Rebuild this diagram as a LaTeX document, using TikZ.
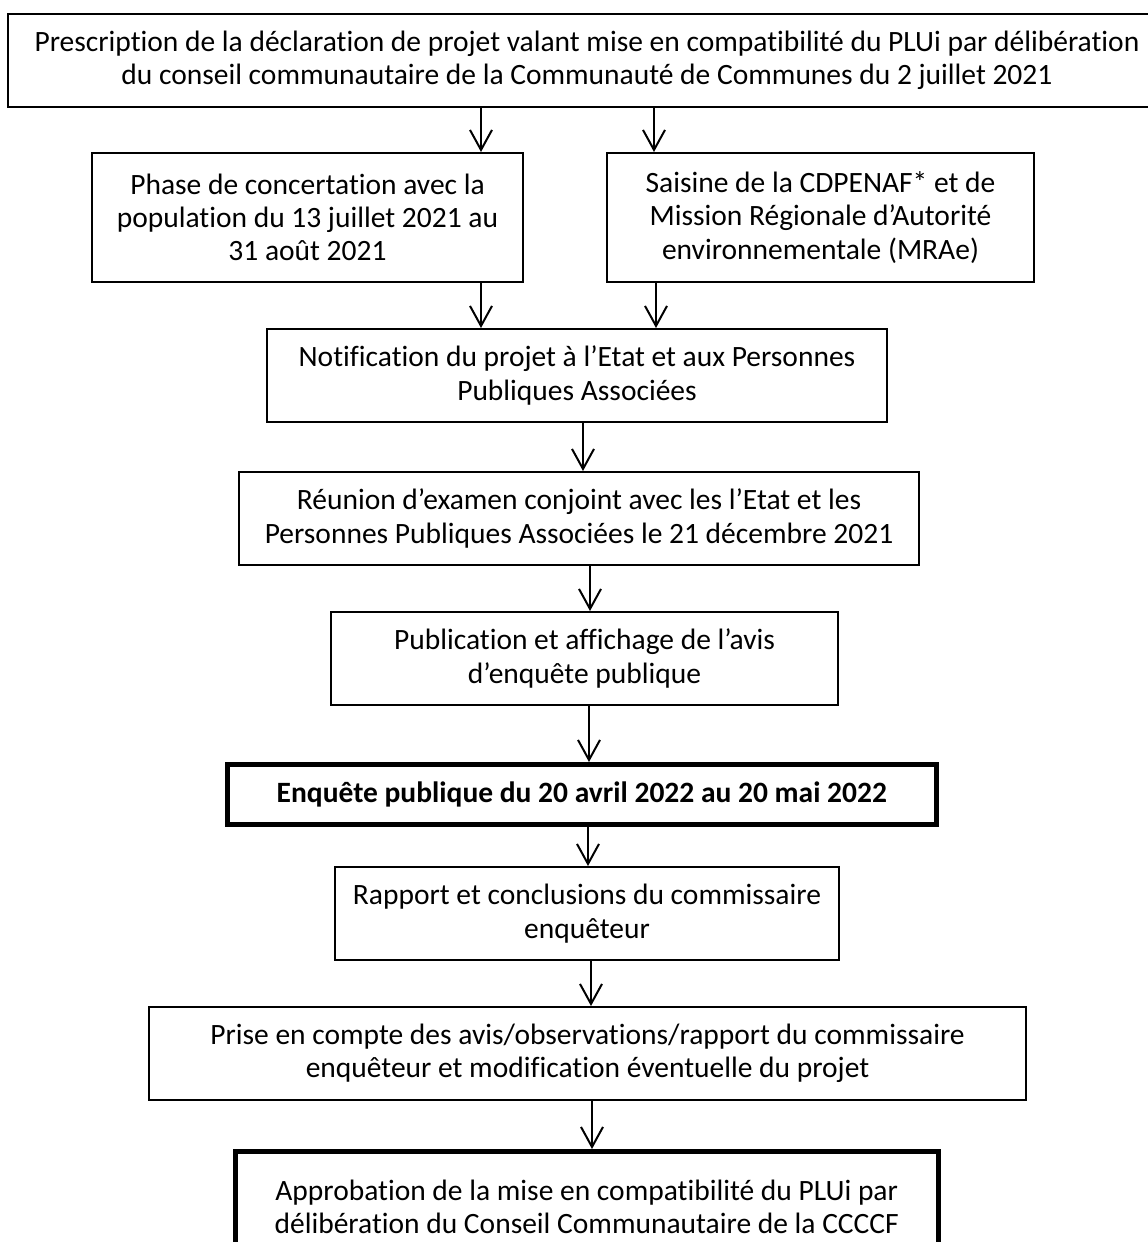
\documentclass[tikz,border=0pt]{standalone}
\usepackage{fontspec}
\setmainfont[Ligatures=NoCommon]{Carlito}
\usetikzlibrary{arrows.meta}
\begin{document}
\begin{tikzpicture}[x=1bp,y=-1bp,
  box/.style={draw=black, line width=2bp, rectangle, inner sep=0pt, align=center,
    font=\fontsize{29.5bp}{33.3bp}\selectfont},
  thickbox/.style={box, line width=5bp},
  arr/.style={line width=2bp, -{Straight Barb[length=20bp,width=22bp,line width=2bp]}}]
\useasboundingbox (0,0) rectangle (1148,1242);
\clip (0,0) rectangle (1148,1242);
\fill[white] (0,0) rectangle (1148,1242);

\node[box, minimum width=1158bp, minimum height=93bp] (top) at (587,60.5)
  {Prescription de la déclaration de projet valant mise en compatibilité du PLUi par délibération\\
   du conseil communautaire de la Communauté de Communes du 2 juillet 2021};
\node[box, minimum width=431bp, minimum height=129bp] (phase) at (307.5,217.5)
  {Phase de concertation avec la\\population du 13 juillet 2021 au\\31 août 2021};
\node[box, minimum width=427bp, minimum height=129bp] (saisine) at (820.5,217.5)
  {Saisine de la CDPENAF* et de\\Mission Régionale d’Autorité\\environnementale (MRAe)};
\node[box, minimum width=620bp, minimum height=93bp] (notif) at (577,375.5)
  {Notification du projet à l’Etat et aux Personnes\\Publiques Associées};
\node[box, minimum width=680bp, minimum height=93bp] (reunion) at (579,518.5)
  {Réunion d’examen conjoint avec les l’Etat et les\\Personnes Publiques Associées le 21 décembre 2021};
\node[box, minimum width=507bp, minimum height=93bp] (publi) at (584.5,658.5)
  {Publication et affichage de l’avis\\d’enquête publique};
\node[thickbox, minimum width=708.5bp, minimum height=60bp] (enq) at (581.75,794.5)
  {\bfseries Enquête publique du 20 avril 2022 au 20 mai 2022};
\node[box, minimum width=504bp, minimum height=93bp] (rapport) at (587,913.5)
  {Rapport et conclusions du commissaire\\enquêteur};
\node[box, minimum width=877bp, minimum height=93bp] (prise) at (587.5,1053.5)
  {Prise en compte des avis/observations/rapport du commissaire\\enquêteur et modification éventuelle du projet};
\node[thickbox, minimum width=702.5bp, minimum height=110.5bp] (appro) at (586.75,1206.75)
  {Approbation de la mise en compatibilité du PLUi par\\délibération du Conseil Communautaire de la CCCCF};

\coordinate (xa) at (481,0);
\coordinate (xb) at (654,0);
\coordinate (xc) at (656,0);
\coordinate (xd) at (583,0);
\coordinate (xe) at (590,0);
\coordinate (xf) at (589,0);
\coordinate (xg) at (588,0);
\coordinate (xh) at (591,0);
\coordinate (xi) at (592,0);

\draw[arr] (top.south -| xa) -- (phase.north -| xa);
\draw[arr] (top.south -| xb) -- (saisine.north -| xb);
\draw[arr] (phase.south -| xa) -- (notif.north -| xa);
\draw[arr] (saisine.south -| xc) -- (notif.north -| xc);
\draw[arr] (notif.south -| xd) -- (reunion.north -| xd);
\draw[arr] (reunion.south -| xe) -- (publi.north -| xe);
\draw[arr] (publi.south -| xf) -- (enq.north -| xf);
\draw[arr] (enq.south -| xg) -- (rapport.north -| xg);
\draw[arr] (rapport.south -| xh) -- (prise.north -| xh);
\draw[arr] (prise.south -| xi) -- (appro.north -| xi);
\end{tikzpicture}
\end{document}
